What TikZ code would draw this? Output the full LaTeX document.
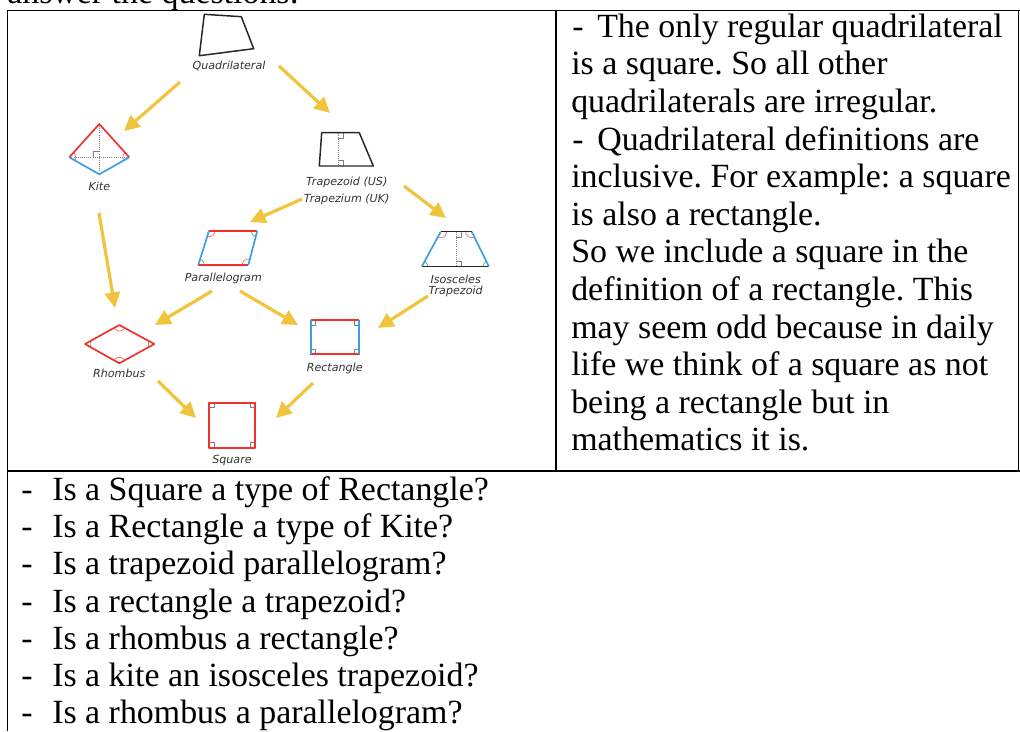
\documentclass[tikz,border=0pt]{standalone}
\usepackage{fontspec}
\setmainfont{Liberation Serif}
\newfontfamily\labelfont{DejaVu Sans}
\usetikzlibrary{arrows.meta,calc,positioning}
\definecolor{arrowyellow}{HTML}{F0C43C}
\definecolor{edgered}{HTML}{F2302E}
\definecolor{edgeblue}{HTML}{3A9FE6}
\definecolor{markgreen}{HTML}{4DB84D}
\newcommand\bodysize{\fontsize{24.1}{28}\selectfont\frenchspacing}
\tikzset{
  shape label/.style={font=\labelfont\itshape\fontsize{7.9}{9}\selectfont,text=black!80,inner sep=0pt},
  body line/.style={anchor=base west,inner sep=0pt,font=\bodysize},
  table rule/.style={line width=1.1pt},
  red edge/.style={edgered,line width=1.2pt,line join=round},
  blue edge/.style={edgeblue,line width=1.2pt,line join=round},
  black edge/.style={black!85,line width=1.05pt,line join=round},
  height line/.style={densely dotted,gray,line width=0.5pt},
  right mark/.style={gray,line width=0.5pt},
  red arc/.style={edgered!70,line width=0.5pt},
  green arc/.style={markgreen,line width=0.5pt},
  kind arrow/.style={arrowyellow,line width=2.3pt,-{Triangle[length=3.9mm,width=3.8mm]}},
}

\begin{document}
\begin{tikzpicture}[x=0.025cm,y=-0.025cm]
  \clip (0,0) rectangle (1020,731);
  \useasboundingbox (0,0) rectangle (1020,731);
  % table
  \draw[table rule] (7,10.5) -- (1020,10.5);
  \draw[table rule] (7.5,10) -- (7.5,731);
  \draw[table rule] (556,10) -- (556,471);
  \draw[table rule] (1018.5,10) -- (1018.5,471);
  \draw[table rule] (7,471) -- (1020,471);
  \node[body line] (intro) at (7,3) {answer the questions:};

  % quadrilateral
  \draw[black edge] (204.3,14.3) -- (241.3,16.7) -- (253.7,48.7) -- (199.3,55.7) -- cycle;
  \node[shape label] (quad) at (229,66) {Quadrilateral};

  % kite
  \coordinate (k1) at (99.3,124);
  \coordinate (k2) at (129.3,157.3);
  \coordinate (k3) at (99.3,174.3);
  \coordinate (k4) at (69.3,157.3);
  \draw[height line] (k1) -- (k3) (k4) -- (k2);
  \draw[right mark] (93.3,157.3) -- (93.3,151.3) -- (99.3,151.3);
  \begin{scope}
    \clip (k1) -- (k2) -- (k3) -- (k4) -- cycle;
    \draw[red arc] (k2) circle[radius=1.6mm] (k4) circle[radius=1.6mm];
  \end{scope}
  \draw[red edge] (k4) -- (k1) -- (k2);
  \draw[blue edge] (k4) -- (k3) -- (k2);
  \node[shape label] (kite) at (99.3,186) {Kite};

  % trapezoid
  \coordinate (t1) at (321.7,132.7);
  \coordinate (t2) at (359.3,132.7);
  \coordinate (t3) at (373.3,166);
  \coordinate (t4) at (319.3,166);
  \draw[height line] (338.3,132.7) -- (338.3,166);
  \draw[right mark] (338.3,138) -- (343.5,138) -- (343.5,132.7);
  \draw[right mark] (338.3,160.7) -- (343.5,160.7) -- (343.5,166);
  \draw[black edge] (t1) -- (t2) -- (t3) -- (t4) -- cycle;
  \node[shape label] (trap) at (346.7,182) {Trapezoid (US)};
  \node[shape label] (trapuk) at (346.7,199.3) {Trapezium (UK)};

  % parallelogram
  \coordinate (p1) at (209,230.7);
  \coordinate (p2) at (257.3,230.7);
  \coordinate (p3) at (248.3,265);
  \coordinate (p4) at (198.3,265);
  \begin{scope}
    \clip (p1) -- (p2) -- (p3) -- (p4) -- cycle;
    \draw[red arc] (p1) circle[radius=1.5mm] (p3) circle[radius=1.5mm];
    \draw[green arc] (p2) circle[radius=1.5mm] (p4) circle[radius=1.5mm];
  \end{scope}
  \draw[red edge] (p1) -- (p2) (p3) -- (p4);
  \draw[blue edge] (p2) -- (p3) (p4) -- (p1);
  \node[shape label] (para) at (223.3,278.3) {Parallelogram};

  % isosceles trapezoid
  \coordinate (i1) at (440.7,231.7);
  \coordinate (i2) at (471.7,231.7);
  \coordinate (i3) at (489,266.7);
  \coordinate (i4) at (421.7,266.7);
  \draw[height line] (456,231.7) -- (456,266.7);
  \draw[right mark] (456,237) -- (461.2,237) -- (461.2,231.7);
  \draw[right mark] (456,261.4) -- (461.2,261.4) -- (461.2,266.7);
  \begin{scope}
    \clip (i1) -- (i2) -- (i3) -- (i4) -- cycle;
    \draw[red arc] (i1) circle[radius=1.5mm] (i2) circle[radius=1.5mm];
    \draw[green arc] (i3) circle[radius=1.5mm] (i4) circle[radius=1.5mm];
  \end{scope}
  \draw[black edge] (i1) -- (i2) (i3) -- (i4);
  \draw[blue edge] (i2) -- (i3) (i4) -- (i1);
  \node[shape label] (iso) at (455.7,279.3) {Isosceles};
  \node[shape label] (isotrap) at (455.7,291.5) {Trapezoid};

  % rhombus
  \coordinate (r1) at (119.3,325);
  \coordinate (r2) at (154.3,344);
  \coordinate (r3) at (119.3,363.3);
  \coordinate (r4) at (85,344);
  \begin{scope}
    \clip (r1) -- (r2) -- (r3) -- (r4) -- cycle;
    \draw[red arc] (r1) circle[radius=1.5mm] (r3) circle[radius=1.5mm];
    \draw[green arc] (r2) circle[radius=1.5mm] (r4) circle[radius=1.5mm];
  \end{scope}
  \draw[red edge] (r1) -- (r2) -- (r3) -- (r4) -- cycle;
  \node[shape label] (rhom) at (119.3,373.3) {Rhombus};

  % rectangle
  \draw[right mark] (310.7,320) rectangle ++(5,5) (359.3,320) rectangle ++(-5,5)
    (310.7,354.3) rectangle ++(5,-5) (359.3,354.3) rectangle ++(-5,-5);
  \draw[red edge] (310.7,320) -- (359.3,320) (310.7,354.3) -- (359.3,354.3);
  \draw[blue edge] (310.7,320) -- (310.7,354.3) (359.3,320) -- (359.3,354.3);
  \node[shape label] (rect) at (334.7,368.3) {Rectangle};

  % square
  \draw[right mark] (209,402.7) rectangle ++(5,5) (255,402.7) rectangle ++(-5,5)
    (209,447.7) rectangle ++(5,-5) (255,447.7) rectangle ++(-5,-5);
  \draw[red edge] (209,402.7) rectangle (255,447.7);
  \node[shape label] (sq) at (232,460.7) {Square};

  % arrows
  \coordinate (qk-a) at (180,82);   \coordinate (qk-b) at (124,131);
  \coordinate (qt-a) at (279,66);   \coordinate (qt-b) at (330,113);
  \coordinate (kr-a) at (99,213);   \coordinate (kr-b) at (115,308);
  \coordinate (tp-a) at (302,199);  \coordinate (tp-b) at (250,222);
  \coordinate (ti-a) at (404,186);  \coordinate (ti-b) at (446,218);
  \coordinate (pr-a) at (212,291);  \coordinate (pr-b) at (155,325);
  \coordinate (pe-a) at (240,291);  \coordinate (pe-b) at (298,325);
  \coordinate (ie-a) at (428,296);  \coordinate (ie-b) at (378,328);
  \coordinate (rs-a) at (158,381);  \coordinate (rs-b) at (196,418);
  \coordinate (es-a) at (313,383);  \coordinate (es-b) at (276,418);
  \foreach \e in {qk,qt,kr,tp,ti,pr,pe,ie,rs,es}
    \draw[kind arrow] (\e-a) -- (\e-b);

  % right column
  \node[body line] (dash1) at (572,37.3) {-};
  \node[body line] (note1) at (597,37.3) {The only regular quadrilateral};
  \node[body line] (note2) at (571,74.9) {is a square. So all other};
  \node[body line] (note3) at (571,112.5) {quadrilaterals are irregular.};
  \node[body line] (dash2) at (572,150.1) {-};
  \node[body line] (note4) at (597,150.1) {Quadrilateral definitions are};
  \node[body line] (note5) at (571,187.7) {inclusive. For example: a square};
  \node[body line] (note6) at (571,225.3) {is also a rectangle.};
  \node[body line] (note7) at (571,262.9) {So we include a square in the};
  \node[body line] (note8) at (571,300.5) {definition of a rectangle. This};
  \node[body line] (note9) at (571,338.1) {may seem odd because in daily};
  \node[body line] (note10) at (571,375.7) {life we think of a square as not};
  \node[body line] (note11) at (571,413.3) {being a rectangle but in};
  \node[body line] (note12) at (571,450.9) {mathematics it is.};

  % questions
  \foreach \q [count=\i] in {{Is a Square a type of Rectangle?},{Is a Rectangle a type of Kite?},
      {Is a trapezoid parallelogram?},{Is a rectangle a trapezoid?},{Is a rhombus a rectangle?},
      {Is a kite an isosceles trapezoid?},{Is a rhombus a parallelogram?}}{
    \node[body line] (qd\i) at (21,{500+(\i-1)*37.33}) {-};
    \node[body line] (q\i) at (52,{500+(\i-1)*37.33}) {\q};
  }
\end{tikzpicture}
\end{document}
